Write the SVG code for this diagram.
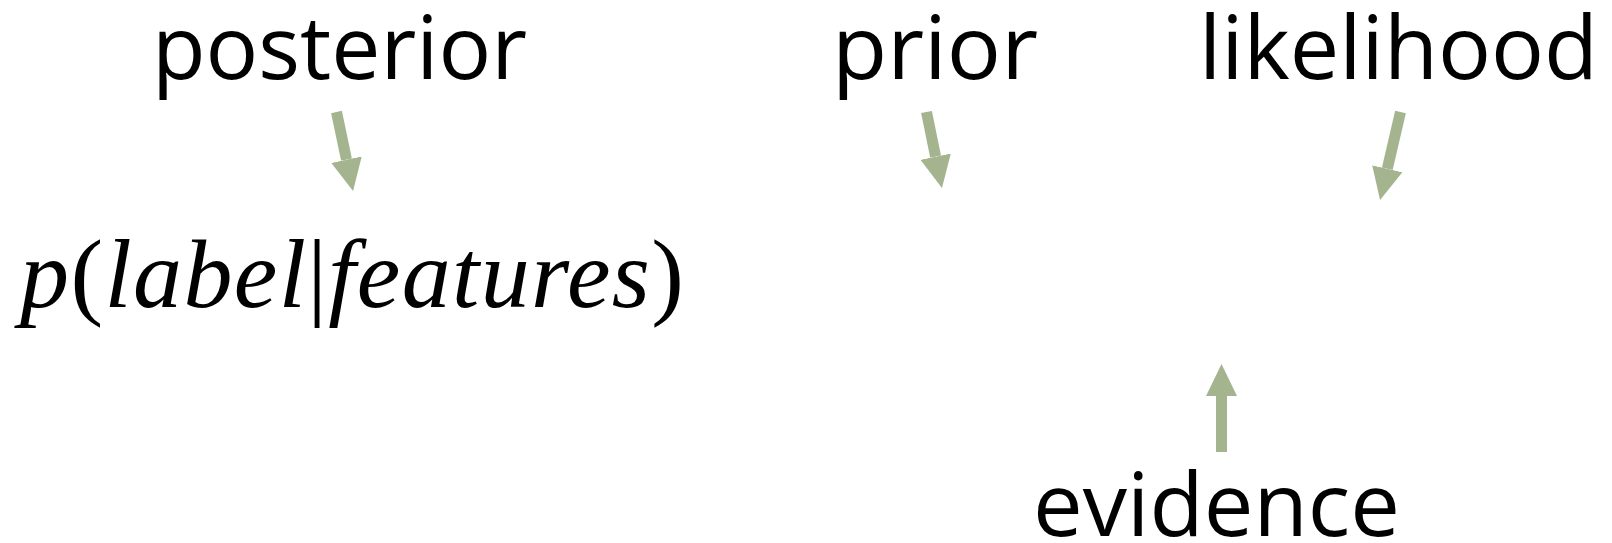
<svg xmlns="http://www.w3.org/2000/svg" width="1612" height="543" viewBox="0 0 1612 543">
  <style>
    .lbl { font-family: "Open Sans", "Noto Sans", sans-serif; font-size: 88px; fill: #000; }
    .math { font-family: "Liberation Serif", "Times New Roman", serif; font-size: 98px; fill: #000; }
    .it { font-style: italic; }
    .arr { stroke: #a3b48f; stroke-width: 11; fill: none; }
  </style>
  <defs>
    <marker id="head" viewBox="0 0 32 31" refX="0" refY="15.5" markerWidth="32" markerHeight="31" markerUnits="userSpaceOnUse" orient="auto">
      <path d="M0,0 L32,15.5 L0,31 Z" fill="#a3b48f"/>
    </marker>
  </defs>
  <rect width="1612" height="543" fill="#fff"/>
  <g id="posterior"><text class="lbl" x="152" y="79" textLength="375" lengthAdjust="spacingAndGlyphs">posterior</text></g>
  <g id="prior"><text class="lbl" x="832" y="79" textLength="206" lengthAdjust="spacingAndGlyphs">prior</text></g>
  <g id="likelihood"><text class="lbl" x="1199" y="79" textLength="399" lengthAdjust="spacingAndGlyphs">likelihood</text></g>
  <g id="evidence"><text class="lbl" x="1033" y="536" textLength="367" lengthAdjust="spacingAndGlyphs">evidence</text></g>
  <g id="formula"><text class="math" x="20" y="307" textLength="664" lengthAdjust="spacing"><tspan class="it">p</tspan>(<tspan class="it">label</tspan>|<tspan class="it">features</tspan>)</text></g>
  <g id="connectors">
    <line class="arr" x1="336.5" y1="112" x2="346.5" y2="159.7" marker-end="url(#head)"/>
    <line class="arr" x1="926.5" y1="112" x2="935.6" y2="156.7" marker-end="url(#head)"/>
    <line class="arr" x1="1400.5" y1="112" x2="1387.3" y2="168.8" marker-end="url(#head)"/>
    <line class="arr" x1="1221.5" y1="452" x2="1221.5" y2="396" marker-end="url(#head)"/>
  </g>
</svg>
